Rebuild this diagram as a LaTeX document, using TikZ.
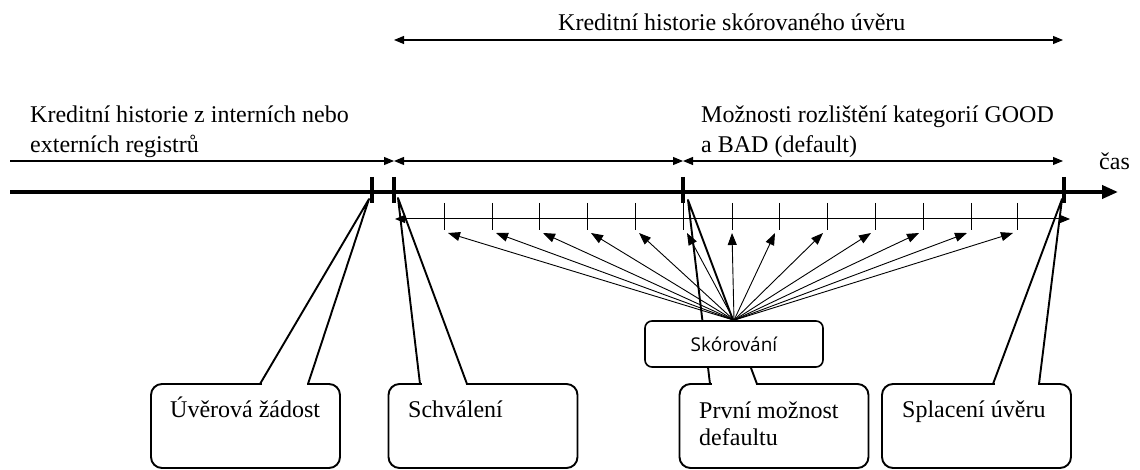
\documentclass[tikz,border=0pt]{standalone}
\usepackage{fontspec}
\setmainfont{Liberation Serif}
\newfontfamily\skfont{Open Sans}
\usetikzlibrary{arrows.meta}
\newcommand\twoln[2]{\begin{tabular}[t]{@{}l@{}}#1\\#2\end{tabular}}
\begin{document}
\begin{tikzpicture}[x=1pt,y=-1pt,
  txt/.style={anchor=base west,inner sep=0pt,font=\fontsize{24}{30}\selectfont},
  boxtxt/.style={anchor=base west,inner sep=0pt,font=\fontsize{24}{27}\selectfont},
  timeaxis/.style={line width=3.8pt,-{Triangle[length=16pt,width=13pt]}},
  bigtick/.style={line width=4.6pt},
  smalltick/.style={line width=1pt},
  span/.style={line width=1.1pt,{Triangle[length=10pt,width=8pt]}-{Triangle[length=10pt,width=8pt]}},
  spanr/.style={line width=1.1pt,-{Triangle[length=10pt,width=8pt]}},
  scoreline/.style={line width=1pt,{Triangle[length=10pt,width=8pt]}-{Triangle[length=10pt,width=8pt]}},
  fan/.style={line width=0.9pt,-{Triangle[length=12pt,width=9pt]}},
  callbox/.style={draw,line width=1.9pt,rounded corners=11pt,minimum width=189pt,minimum height=84pt,inner sep=0pt,fill=white},
  wedge/.style={line width=1.9pt,line join=round},
  skbox/.style={draw,line width=1.6pt,rounded corners=7pt,minimum width=178pt,minimum height=46pt,inner sep=0pt,fill=white,font=\skfont\fontsize{19}{22}\selectfont}
]
\useasboundingbox (0,0) rectangle (1140,470);

% top span
\coordinate (h0) at (394,40);
\coordinate (h1) at (1063,40);
\draw[span] (h0) -- (h1);
\node[txt] (top) at (558,31) {Kreditní historie skórovaného úvěru};

% second row spans
\coordinate (s0) at (10,161);
\coordinate (s1) at (394,161);
\coordinate (s2) at (683,161);
\coordinate (s3) at (1063,161);
\draw[spanr] (s0) -- (s1);
\draw[span] (s1) -- (s2);
\draw[span] (s2) -- (s3);
\node[txt] (reg) at (30,123) {\twoln{Kreditní historie z interních nebo}{externích registrů}};
\node[txt] (gb) at (701,123) {\twoln{Možnosti rozlištění kategorií GOOD}{a BAD (default)}};

% time axis
\coordinate (ax0) at (10,192);
\coordinate (ax1) at (1118,192);
\draw[timeaxis] (ax0) -- (ax1);
\node[txt] (cas) at (1099,170) {čas};
\foreach \x in {372,394,683,1064} {\draw[bigtick] (\x,177) -- (\x,203);}

% scoring line and its ticks
\coordinate (l0) at (395,219);
\coordinate (l1) at (1070,219);
\draw[scoreline] (l0) -- (l1);
\foreach \i/\x in {1/444,2/492,3/539,4/587,5/635,6/683,7/732,8/779,9/827,10/875,11/923,12/971,13/1017}
  {\coordinate (t\i) at (\x,230); \draw[smalltick] (\x,203) -- (t\i);}

% fan targets
\foreach \i/\x in {1/448,2/496,3/543,4/591,5/639,6/687,7/732,8/775,9/823,10/871,11/919,12/967,13/1013}
  {\coordinate (f\i) at (\x,233);}

% callouts
\node[callbox] (bA) at (245.5,426) {};
\node[callbox] (bB) at (483,426) {};
\node[callbox] (bC) at (774,426) {};
\node[callbox] (bD) at (976.5,426) {};
\coordinate (pA) at (369,199);
\coordinate (pB) at (398,198);
\coordinate (pC) at (688,200);
\coordinate (pD) at (1062,199);
\foreach \b/\p/\xa/\xb in {A/pA/260/308,B/pB/420/467,C/pC/710/757,D/pD/993/1039}{
  \fill[white] (\xa+1.5,381.5) rectangle (\xb-1.5,386.5);
  \draw[wedge] (\xa,384) -- (\p) -- (\xb,384);
}
\node[boxtxt] (tA) at (170,417) {Úvěrová žádost};
\node[boxtxt] (tB) at (408,417) {Schválení};
\node[boxtxt] (tC) at (699,418) {\twoln{První možnost}{defaultu}};
\node[boxtxt] (tD) at (902,417) {Splacení úvěru};

% scoring box and fan
\node[skbox] (sk) at (734,344) {Skórování};
\foreach \i in {1,...,13} {\draw[fan] (sk.north) -- (f\i);}
\end{tikzpicture}
\end{document}
